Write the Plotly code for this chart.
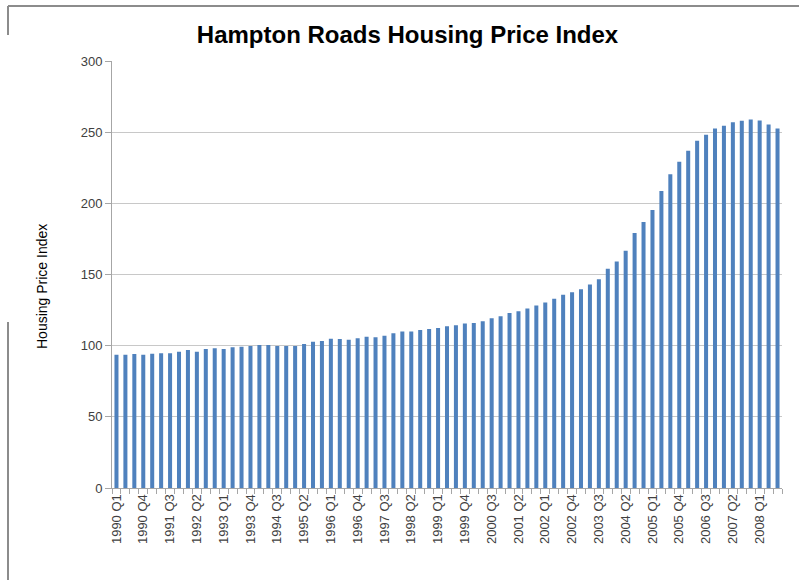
import plotly.graph_objects as go

years = list(range(1990, 2009))
quarters = [f"{y} Q{q}" for y in years for q in range(1, 5)][:75]  # 1990 Q1 .. 2008 Q3

hpi = [
    93.7, 93.7, 94.1, 93.7,      # 1990
    94.4, 94.6, 94.6, 95.8,      # 1991
    96.9, 95.8, 97.7, 98.1,      # 1992
    97.7, 98.8, 99.3, 99.8,      # 1993
    100.5, 100.5, 99.8, 99.8,    # 1994
    99.8, 101.2, 102.8, 103.3,   # 1995
    104.9, 104.6, 104.2, 105.2,  # 1996
    106.3, 105.9, 107.0, 108.7,  # 1997
    109.9, 109.9, 111.0, 111.7,  # 1998
    112.4, 113.6, 114.3, 115.5,  # 1999
    116.0, 117.1, 119.2, 120.7,  # 2000
    123.0, 124.2, 126.1, 128.2,  # 2001
    130.3, 132.9, 135.8, 137.6,  # 2002
    139.7, 143.0, 146.7, 154.0,  # 2003
    159.2, 166.7, 179.1, 186.9,  # 2004
    195.3, 208.7, 220.4, 229.3,  # 2005
    236.9, 243.9, 248.1, 252.6,  # 2006
    254.5, 257.0, 258.0, 258.9,  # 2007
    258.2, 255.4, 252.6,         # 2008
]

tick_idx = list(range(0, len(quarters), 3))
tick_text = [quarters[i] for i in tick_idx]
y_ticks = [0, 50, 100, 150, 200, 250, 300]

W, H = 799, 580
L, R, T, B = 112, 782, 61, 488

def px_x(p):
    return (p - L) / (R - L)

def px_y(p):
    return (B - p) / (B - T)

fig = go.Figure(go.Bar(
    x=list(range(len(quarters))),
    y=hpi,
    marker=dict(color="#4F81BD", line=dict(width=0)),
    hovertext=quarters,
))

fig.update_layout(
    width=W, height=H,
    margin=dict(l=L, r=W - R, t=T, b=H - B),
    paper_bgcolor="white", plot_bgcolor="white",
    bargap=0.55,
    showlegend=False,
    font=dict(family="Liberation Sans, Arial, sans-serif", color="#404040"),
    title=dict(
        text="<b>Hampton Roads Housing Price Index</b>",
        x=407.5 / W, xanchor="center", xref="container",
        y=1 - 35 / H, yanchor="middle", yref="container",
        font=dict(size=24, color="#000000", family="Liberation Sans, Arial, sans-serif"),
    ),
    xaxis=dict(
        range=[-0.5, len(quarters) - 0.5],
        tickmode="array", tickvals=tick_idx, ticktext=tick_text,
        tickangle=-90, ticks="",
        tickfont=dict(size=13, color="#404040"),
        showgrid=False, zeroline=False,
        showline=True, linecolor="#a6a6a6", linewidth=1,
        minor=dict(tickmode="linear", tick0=-0.5, dtick=1, ticks="outside",
                   ticklen=5, tickcolor="#a6a6a6", showgrid=False),
    ),
    yaxis=dict(
        range=[0, 300],
        tickmode="array", tickvals=y_ticks,
        ticks="outside", ticklen=6, tickcolor="#a6a6a6",
        tickfont=dict(size=13, color="#404040"),
        showgrid=True, gridcolor="#c8c8c8", gridwidth=1,
        zeroline=False,
        showline=True, linecolor="#a6a6a6", linewidth=1,
    ),
    annotations=[dict(
        text="Housing Price Index", textangle=-90,
        xref="paper", yref="paper", x=px_x(42), y=px_y(287),
        xanchor="center", yanchor="middle", showarrow=False,
        font=dict(size=14, color="#000000"),
    )],
    shapes=[
        dict(type="line", xref="paper", yref="paper",
             x0=px_x(8), x1=px_x(W), y0=px_y(6), y1=px_y(6),
             line=dict(color="#8c8c8c", width=2)),
        dict(type="line", xref="paper", yref="paper",
             x0=px_x(8), x1=px_x(8), y0=px_y(6), y1=px_y(35),
             line=dict(color="#8c8c8c", width=2)),
        dict(type="line", xref="paper", yref="paper",
             x0=px_x(8), x1=px_x(8), y0=px_y(322), y1=px_y(H),
             line=dict(color="#8c8c8c", width=2)),
    ],
)

fig.write_html("out.html", config={"displayModeBar": False},
               post_script="document.body.style.margin='0';")
